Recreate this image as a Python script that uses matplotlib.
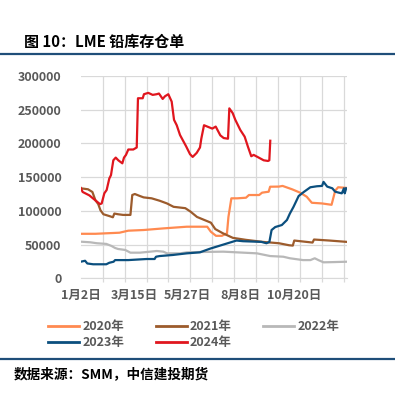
import matplotlib
matplotlib.use("Agg")
import matplotlib.pyplot as plt
from matplotlib.lines import Line2D

plt.rcParams['font.family'] = ['Noto Sans CJK SC', 'DejaVu Sans']

# x: day offset from 1月2日
tick_days = [0, 73, 146, 219, 292]
tick_labels = ['1月2日', '3月15日', '5月27日', '8月8日', '10月20日']
y_ticks = [0, 50000, 100000, 150000, 200000, 250000, 300000]

d2020 = [0, 20, 53, 65, 86, 113, 145, 173, 178, 185, 193, 200, 202, 206, 214, 226, 230, 244, 248, 257,
         259, 271, 276, 289, 300, 309, 316, 330, 343, 348, 352, 364]
v2020 = [66000, 66000, 67600, 70600, 71600, 74000, 76500, 76500, 69000, 63000, 63000, 66700, 91000, 118600,
         118600, 119500, 123500, 123500, 127000, 128400, 135800, 136000, 137000, 132000, 127000, 121000,
         112000, 111000, 109000, 130000, 135000, 134000]

d2021 = [0, 10, 16, 20, 24, 27, 31, 40, 44, 46, 51, 58, 68, 70.5, 74, 81, 86, 97, 108, 118, 127, 143,
         150, 159, 169, 178, 184, 194, 208, 226, 249, 271, 285, 290, 292, 317, 319, 340, 364]
v2021 = [133500, 132000, 128000, 116000, 110000, 101000, 95000, 92000, 90500, 96000, 95000, 94000, 94000,
         123500, 125000, 122000, 120000, 118600, 115000, 111000, 106000, 104000, 99000, 91000, 86500,
         82500, 73000, 67000, 60000, 57000, 54000, 52000, 49000, 48500, 56000, 53000, 57500, 56000, 54000]

d2022 = [0, 13, 22, 35, 42, 47, 51, 61, 68, 81, 95, 104, 113, 118, 136, 145, 163, 195, 241, 259, 277,
         286, 304, 314, 320, 325, 332, 345, 364]
v2022 = [54300, 53400, 52000, 51000, 48000, 45000, 43500, 42000, 38000, 38000, 39500, 40500, 39500, 37000,
         37000, 38500, 39000, 39500, 37000, 33000, 32000, 29700, 27000, 27000, 29700, 27000, 23700, 24000,
         24600]

d2023 = [0, 6, 9, 17, 35, 39, 45, 47, 65, 90, 101, 103, 108, 126, 145, 163, 177, 195, 213, 222, 247, 254,
         258, 261, 266, 275, 282, 286, 291, 298, 305, 314, 323, 330, 332, 337, 344, 348, 353, 357, 360,
         361, 363]
v2023 = [24600, 26000, 22000, 20800, 20800, 23000, 24600, 27000, 27000, 28600, 28600, 32000, 33000, 34600,
         37000, 38500, 44000, 50000, 56000, 55000, 54000, 52000, 54000, 71600, 76000, 79000, 86500, 96000,
         106000, 122000, 128000, 135000, 136500, 137000, 143000, 136000, 133500, 128400, 127000, 126000,
         133500, 126000, 133500]

d2024 = [0, 2.7, 11.8, 19.6, 26.4, 28.7, 32.3, 35.5, 39.1, 41.4, 44.6, 47.9, 51.4, 56.9, 59.2, 61.9,
         65.1, 71.9, 76.6, 78.3, 84.8, 86.5, 92.4, 98.4, 103.9, 107, 112.1, 115.3, 119.8, 124.4, 127.6,
         131.3, 135.8, 139.5, 144, 149.5, 153.1, 158.6, 163.1, 164.9, 168.6, 173.1, 179.9, 184.6, 190.9,
         195.5, 201.4, 203.2, 207.8, 211.4, 218.2, 224.2, 228.7, 233.2, 236.5, 243.4, 250.2, 256.1, 257.9,
         259.2]
v2024 = [134000, 128000, 123000, 116000, 110000, 111000, 126000, 131000, 148000, 153000, 175000, 179000,
         175000, 170500, 179000, 183000, 191000, 191000, 194000, 267000, 267000, 273000, 275000, 272000,
         273000, 274000, 266000, 270000, 273000, 262000, 235000, 227000, 212500, 205000, 196000, 184000,
         180000, 186000, 194000, 207000, 227000, 225000, 222000, 225000, 212000, 208000, 207000, 252000,
         245000, 235000, 220000, 210000, 195000, 181000, 183000, 179000, 175000, 174000, 175000, 204000]

series = [
    ('2020年', d2020, v2020, '#FF8A50'),
    ('2021年', d2021, v2021, '#9C5B2C'),
    ('2022年', d2022, v2022, '#B8B8B8'),
    ('2023年', d2023, v2023, '#0B4F7E'),
    ('2024年', d2024, v2024, '#E0161E'),
]

W, H = 395, 393
fig = plt.figure(figsize=(W / 100, H / 100), dpi=100)
ax = fig.add_axes([80.7 / W, 1 - 278.3 / H, (346.7 - 80.7) / W, (278.3 - 76) / H])

for name, d, v, c in series:
    ax.plot(d, v, color=c, lw=1.6, label=name, solid_joinstyle='round')

ax.set_xlim(0, 363.7)
ax.set_ylim(0, 300000)
ax.set_yticks(y_ticks)
ax.set_yticklabels([str(t) for t in y_ticks])
ax.set_xticks(tick_days)
ax.set_xticklabels(tick_labels)
ax.set_xticks(list(range(0, 361, 30)), minor=True)
ax.grid(axis='y', color='#D9D9D9', lw=0.9)
ax.grid(axis='x', which='minor', color='#D9D9D9', lw=0.9)
ax.set_axisbelow(True)
for s in ['top', 'right', 'left']:
    ax.spines[s].set_visible(False)
ax.spines['bottom'].set_color('#D9D9D9')
ax.tick_params(axis='y', length=0, pad=14, labelsize=9, labelcolor='#595959')
ax.tick_params(axis='x', which='major', length=0, pad=8, labelsize=9, labelcolor='#595959')
ax.tick_params(axis='x', which='minor', length=3, color='#D9D9D9', width=0.9)
for lab in ax.get_xticklabels() + ax.get_yticklabels():
    lab.set_fontweight('bold')

# legend: row-wise order (matplotlib fills column-wise)
order = [0, 3, 1, 4, 2]
handles = [Line2D([], [], color=series[i][3], lw=2) for i in order]
labels = [series[i][0] for i in order]
leg = fig.legend(handles, labels, ncol=3, loc='upper left',
                 bbox_to_anchor=(48 / W, 1 - 320 / H), frameon=False,
                 prop={'size': 9, 'weight': 'bold'}, handlelength=2.5,
                 handletextpad=0.25, columnspacing=2.5, labelspacing=0.25,
                 borderaxespad=0, borderpad=0)
for t in leg.get_texts():
    t.set_color('#595959')

fig.text(24 / W, 1 - 42 / H, '图 10：LME 铅库存仓单', fontsize=10.8, fontweight='bold',
         color='black', va='center', ha='left')
fig.add_artist(Line2D([0, 1], [1 - 54 / H] * 2, transform=fig.transFigure, color='#1F4E79', lw=1.6))
fig.add_artist(Line2D([0, 1], [1 - 359 / H] * 2, transform=fig.transFigure, color='#1F4E79', lw=1.6))
fig.text(14 / W, 1 - 374 / H, '数据来源：SMM，中信建投期货', fontsize=9.8, fontweight='bold',
         style='italic', color='black', va='center', ha='left')

fig.savefig('out.png', dpi=100)
